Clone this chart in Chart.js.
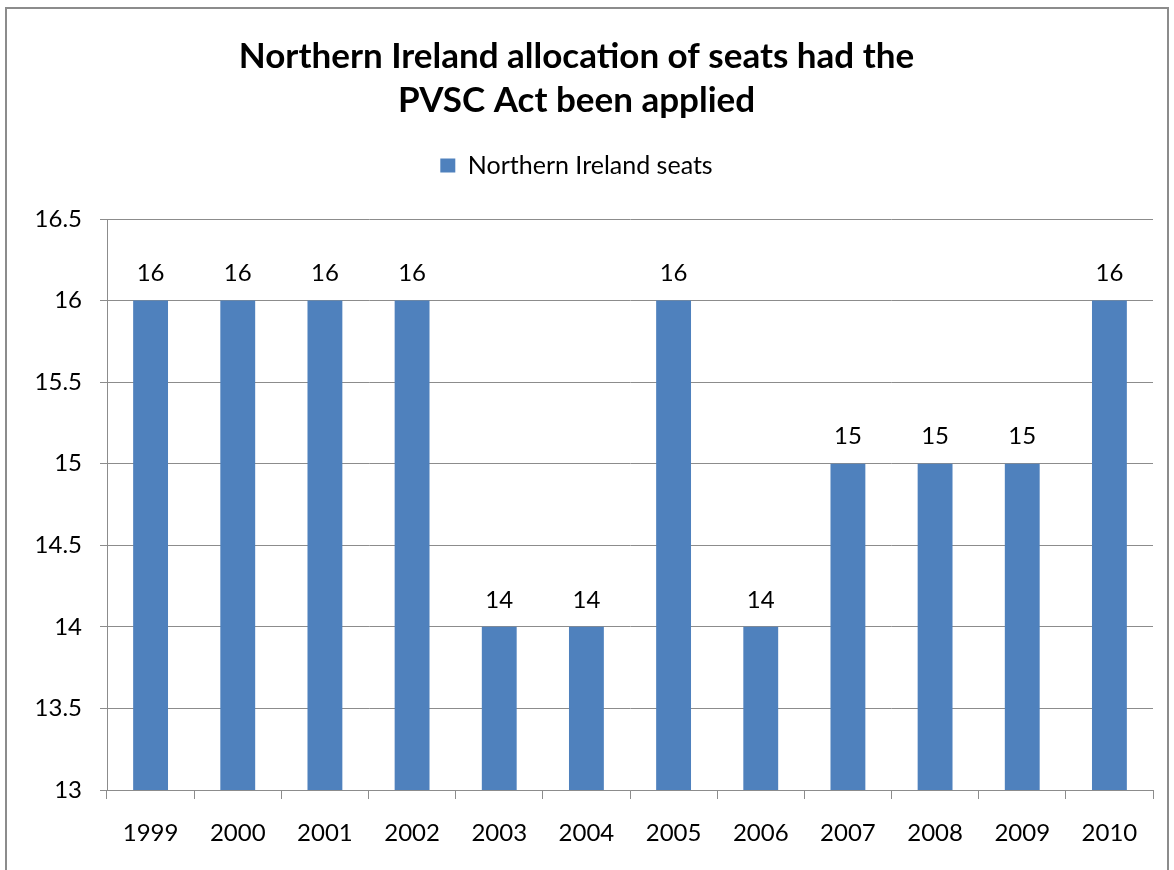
<!DOCTYPE html>
<html>
<head>
<meta charset="utf-8">
<script src="https://cdn.jsdelivr.net/npm/chart.js@4.4.1/dist/chart.umd.min.js"></script>
<style>
  html, body { margin: 0; padding: 0; background: #fff; overflow: hidden; }
  #wrap { position: relative; width: 1174px; height: 870px; }
  #frame { position: absolute; left: 5px; top: 7px; width: 1164px; height: 900px; border: 2px solid #8c8c8c; box-sizing: border-box; }
  #grafico { position: absolute; left: 0; top: 0; }
</style>
</head>
<body>
<div id="wrap">
  <div id="frame"></div>
  <canvas id="grafico" width="1174" height="870"></canvas>
</div>
<script>
// datos del grafico
const years = ["1999","2000","2001","2002","2003","2004","2005","2006","2007","2008","2009","2010"];
const seats = [16, 16, 16, 16, 14, 14, 16, 14, 15, 15, 15, 16];
const seriesName = "Northern Ireland seats";
const titleLines = ["Northern Ireland allocation of seats had the", "PVSC Act been applied"];

const azul = "#4F81BD";
const gris = "#8c8c8c";
const fuente = "Lato, 'Open Sans', sans-serif";

// etiquetas encima de cada barra
const etiquetas = {
  id: "etiquetas",
  afterDatasetsDraw(chart) {
    const ctx = chart.ctx;
    const meta = chart.getDatasetMeta(0);
    ctx.save();
    ctx.font = "24px " + fuente;
    ctx.fillStyle = "#000";
    ctx.textAlign = "center";
    ctx.textBaseline = "middle";
    meta.data.forEach((bar, i) => {
      ctx.fillText(String(seats[i]), bar.x, bar.y - 27);
    });
    ctx.restore();
  }
};

// hueco debajo de la leyenda
const huecoLeyenda = {
  id: "huecoLeyenda",
  beforeLayout(chart) {
    const lg = chart.legend;
    if (lg && !lg._parcheado) {
      const fitOrig = lg.fit;
      lg.fit = function () { fitOrig.call(this); this.height += 31; };
      lg._parcheado = true;
    }
  }
};

const ctx = document.getElementById("grafico").getContext("2d");
const chart = new Chart(ctx, {
  type: "bar",
  data: {
    labels: years,
    datasets: [{
      label: seriesName,
      data: seats,
      backgroundColor: azul,
      borderWidth: 0,
      barPercentage: 0.4,
      categoryPercentage: 1.0
    }]
  },
  options: {
    responsive: false,
    animation: false,
    layout: { padding: { left: 0, right: 21, top: 0, bottom: 0 } },
    plugins: {
      title: {
        display: true,
        text: titleLines,
        color: "#000",
        font: { family: fuente, size: 35, weight: "bold", lineHeight: 44 / 35 },
        padding: { top: 35, bottom: 0 }
      },
      legend: {
        display: true,
        position: "top",
        labels: {
          color: "#000",
          font: { family: fuente, size: 25 },
          boxWidth: 15,
          boxHeight: 14,
          padding: 30
        }
      },
      tooltip: { enabled: false }
    },
    scales: {
      x: {
        offset: true,
        grid: {
          display: true,
          offset: true,
          drawOnChartArea: false,
          color: gris,
          tickLength: 9,
          tickColor: gris
        },
        border: { color: gris, width: 1 },
        ticks: { color: "#000", font: { family: fuente, size: 24 }, padding: 20, maxRotation: 0 },
        afterFit(scale) { scale.height = 80; }
      },
      y: {
        min: 13,
        max: 16.5,
        grid: { color: gris, tickLength: 7, tickColor: gris },
        border: { color: gris, width: 1 },
        ticks: {
          stepSize: 0.5,
          color: "#000",
          font: { family: fuente, size: 24 },
          padding: 18,
          callback: v => String(v)
        },
        afterFit(scale) { scale.width = 107; }
      }
    }
  },
  plugins: [etiquetas, huecoLeyenda]
});
</script>
</body>
</html>
